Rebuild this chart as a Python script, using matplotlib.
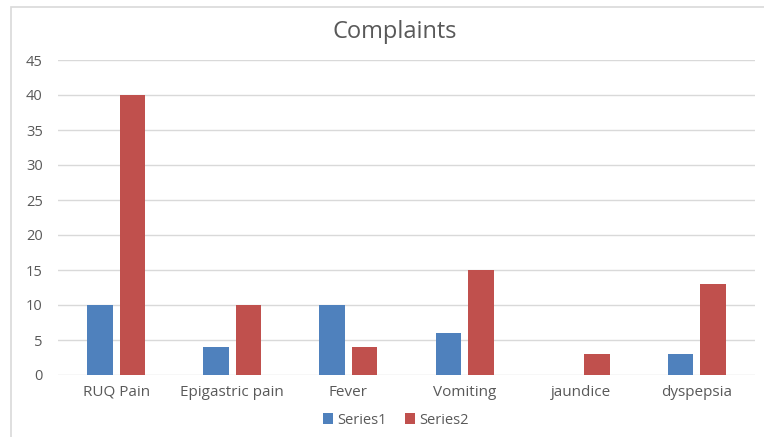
import matplotlib
matplotlib.use("Agg")
from matplotlib import pyplot as plt
from matplotlib.patches import Rectangle
import numpy as np

categories = ['RUQ Pain', 'Epigastric pain', 'Fever', 'Vomiting', 'jaundice', 'dyspepsia']
series1 = [10, 4, 10, 6, 0, 3]
series2 = [40, 10, 4, 15, 3, 13]

plt.rcParams['font.family'] = ['Open Sans', 'DejaVu Sans']
text_color = '#595959'

fig = plt.figure(figsize=(7.64, 4.37), dpi=100)
W, H = 764, 437
ax = fig.add_axes([58 / W, (H - 375) / H, (755 - 58) / W, 315 / H])

# outer chart border
fig.patches.append(Rectangle((11 / W, -0.05), 1.0, (H - 7) / H + 0.05,
                             transform=fig.transFigure, fill=False,
                             edgecolor='#D9D9D9', linewidth=1.2))

x = np.arange(len(categories))
w = 0.22
ax.bar(x - 0.14, series1, width=w, color='#4F81BD', label='Series1', zorder=3)
ax.bar(x + 0.14, series2, width=w, color='#C0504D', label='Series2', zorder=3)

ax.set_xlim(-0.5, len(categories) - 0.5)
ax.set_ylim(0, 45)
ax.set_yticks(range(0, 46, 5))
ax.set_xticks(x)
ax.set_xticklabels(categories)
ax.yaxis.grid(True, color='#D9D9D9', linewidth=1)
ax.set_axisbelow(True)
for s in ax.spines.values():
    s.set_visible(False)
ax.tick_params(axis='both', length=0, colors=text_color)
ax.tick_params(axis='x', labelsize=11, pad=7)
ax.tick_params(axis='y', labelsize=10.5, pad=11)

fig.text(395 / W, 1 - 32 / H, 'Complaints', ha='center', va='center',
         fontsize=17, color=text_color)

leg = fig.legend(loc='center', bbox_to_anchor=(396 / W, 1 - 420 / H), ncol=2,
                 frameon=False, fontsize=10.5, handlelength=0.7, handleheight=0.7,
                 columnspacing=1.2, handletextpad=0.3)
for t in leg.get_texts():
    t.set_color(text_color)

fig.savefig('out.png', dpi=100)
